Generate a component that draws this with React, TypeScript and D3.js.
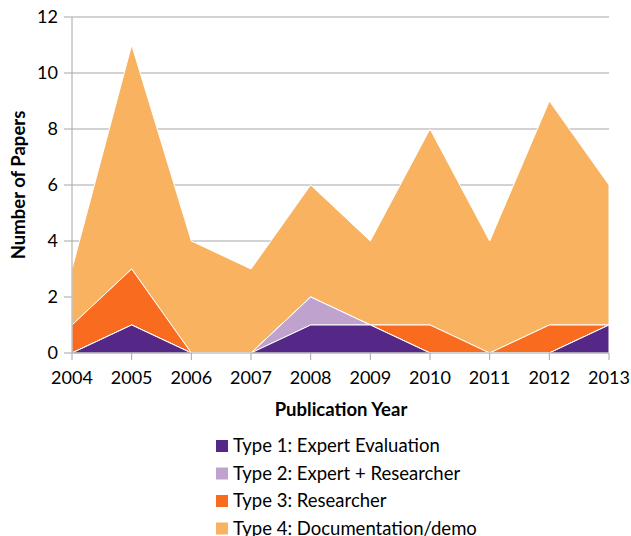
import React from 'react'
import * as d3 from 'd3'

const years = [2004, 2005, 2006, 2007, 2008, 2009, 2010, 2011, 2012, 2013]
const type1 = [0, 1, 0, 0, 1, 1, 0, 0, 0, 1]
const type2 = [0, 0, 0, 0, 1, 0, 0, 0, 0, 0]
const type3 = [1, 2, 0, 0, 0, 0, 1, 0, 1, 0]
const type4 = [2, 8, 4, 3, 4, 3, 7, 4, 8, 5]
const seriesNames = ['Type 1: Expert Evaluation', 'Type 2: Expert + Researcher', 'Type 3: Researcher', 'Type 4: Documentation/demo']
const colors = ['#552887', '#bfa2cd', '#f96b1f', '#f8b260']
const yTicks = [0, 2, 4, 6, 8, 10, 12]

const W = 631
const H = 536
const left = 72
const right = 609
const top = 17
const bottom = 353
const font = 'Lato, "Open Sans", sans-serif'

export default function App() {
  const x = d3.scaleLinear().domain([2004, 2013]).range([left, right])
  const y = d3.scaleLinear().domain([0, 12]).range([bottom, top])

  const rows = years.map((yr, i) => ({ year: yr, t1: type1[i], t2: type2[i], t3: type3[i], t4: type4[i] }))
  const stack = d3.stack<any>().keys(['t1', 't2', 't3', 't4'])
  const layers = stack(rows)

  const area = d3.area<any>()
    .x(d => x(d.data.year))
    .y0(d => y(d[0]))
    .y1(d => y(d[1]))

  return (
    <svg width={W} height={H} style={{ position: 'absolute', left: 0, top: 0 }}>
      {yTicks.map(t => (
        <line key={t} x1={left - 8} x2={right} y1={y(t)} y2={y(t)} stroke="#a6a6a6" strokeWidth={1} />
      ))}
      {layers.slice().reverse().map((l, i) => (
        <path key={l.key} d={area(l) as string} fill={colors[3 - i]} stroke="#ffffff" strokeWidth={1} strokeLinejoin="round" />
      ))}
      <line x1={left} x2={left} y1={top} y2={bottom} stroke="#a6a6a6" />
      <line x1={left} x2={right} y1={bottom} y2={bottom} stroke="#a6a6a6" />
      {years.map(yr => (
        <line key={yr} x1={x(yr)} x2={x(yr)} y1={bottom} y2={bottom + 7} stroke="#a6a6a6" />
      ))}
      {yTicks.map(t => (
        <text key={t} x={left - 14} y={y(t)} dy="0.35em" textAnchor="end" fontSize={18} fontFamily={font} fill="#000">{t}</text>
      ))}
      {years.map(yr => (
        <text key={yr} x={x(yr)} y={bottom + 31} textAnchor="middle" fontSize={18} fontFamily={font} fill="#000">{yr}</text>
      ))}
      <text x={341} y={416} textAnchor="middle" fontSize={18.5} fontWeight="bold" fontFamily={font}>Publication Year</text>
      <text transform={`translate(25,185) rotate(-90)`} textAnchor="middle" fontSize={18.5} fontWeight="bold" fontFamily={font}>Number of Papers</text>
      {seriesNames.map((n, i) => (
        <g key={n} transform={`translate(216,${446 + i * 27.5})`}>
          <rect x={0} y={-6} width={12} height={12} fill={colors[i]} />
          <text x={17} y={0} dy="0.35em" fontSize={18.5} fontFamily={font} fill="#000">{n}</text>
        </g>
      ))}
    </svg>
  )
}
